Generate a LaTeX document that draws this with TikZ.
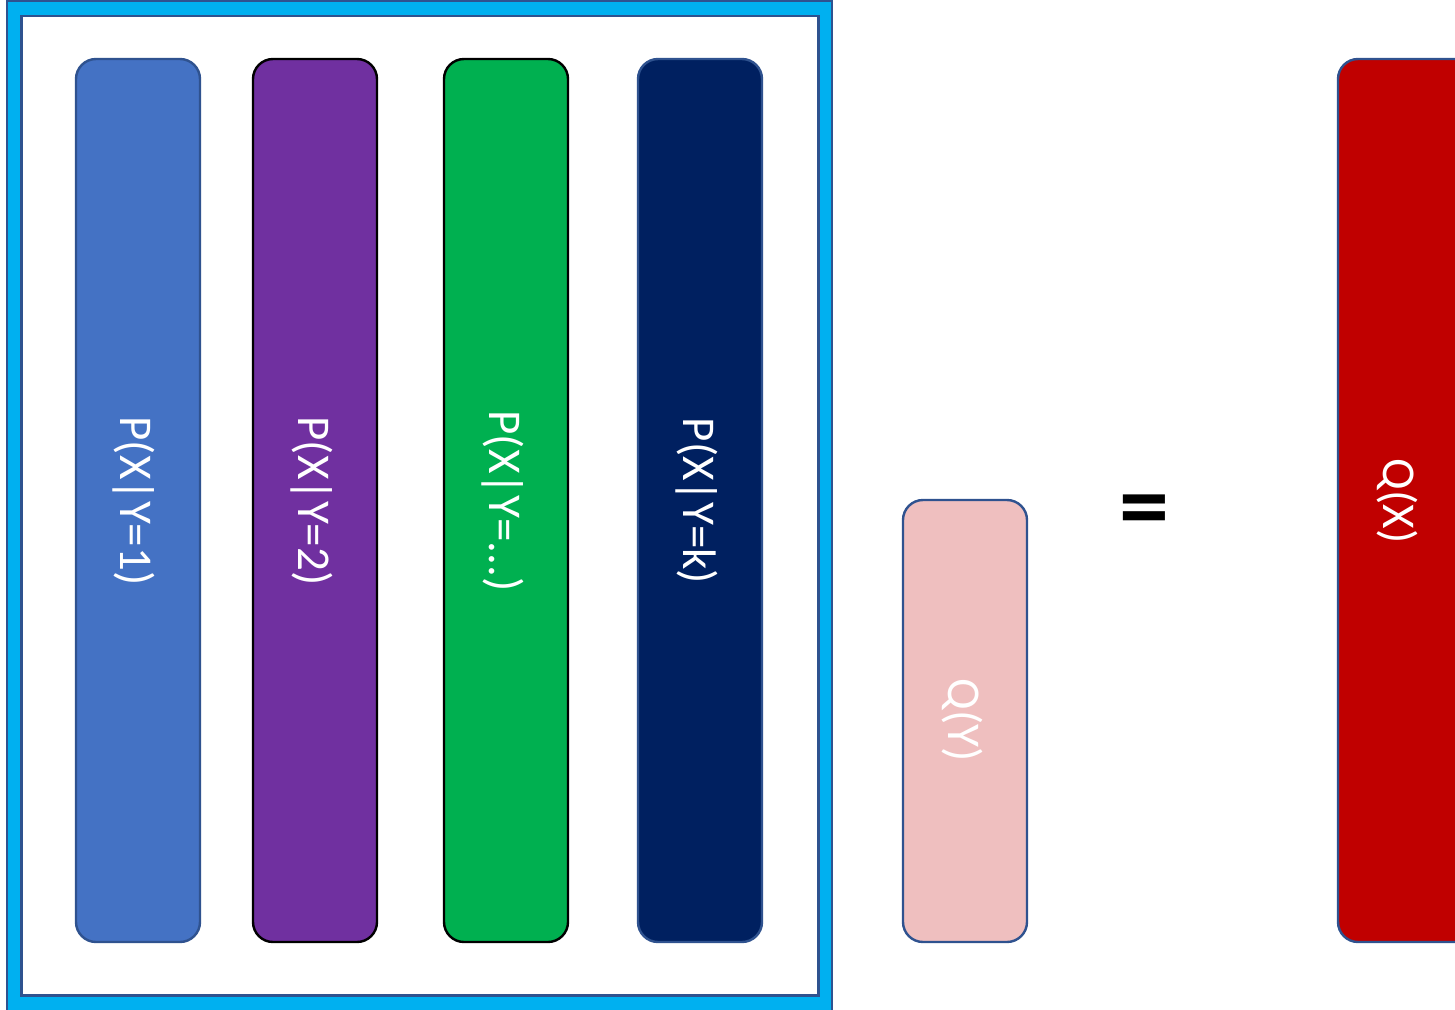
\documentclass[tikz,border=0pt]{standalone}
\usepackage{fontspec}
\setmainfont{Carlito}
\begin{document}
\begin{tikzpicture}[x=1pt,y=-1pt]
  \definecolor{framecyan}{HTML}{00B0F0}
  \definecolor{edgeblue}{HTML}{2F528F}
  \definecolor{barblue}{HTML}{4472C4}
  \definecolor{barpurple}{HTML}{7030A0}
  \definecolor{bargreen}{HTML}{00B050}
  \definecolor{barnavy}{HTML}{002060}
  \definecolor{barpink}{HTML}{EFBFBF}
  \definecolor{barred}{HTML}{C00000}
  \tikzset{
    bar/.style={rounded corners=20pt, line width=2.4pt},
    barlabel/.style={text=white, rotate=-90, inner sep=0pt,
      font=\fontsize{47}{47}\selectfont},
  }
  \useasboundingbox (0,0) rectangle (1455,1009);
  \clip (0,0) rectangle (1455,1009);

  % conditional distributions inside a framed group
  \draw[fill=framecyan, draw=edgeblue, line width=2pt] (7,1) rectangle (832,1030);
  \draw[fill=white, draw=edgeblue, line width=2.4pt] (21.5,16) rectangle (818.5,995.5);

  \draw[bar, fill=barblue, draw=edgeblue] (76,59) rectangle (200,942);
  \draw[bar, fill=barpurple, draw=black] (253,59) rectangle (377,942);
  \draw[bar, fill=bargreen, draw=black] (444,59) rectangle (568,942);
  \draw[bar, fill=barnavy, draw=edgeblue] (638,59) rectangle (762,942);

  \node[barlabel] (p1) at (134,501) {P(X|Y=1)};
  \node[barlabel] (p2) at (312,501) {P(X|Y=2)};
  \node[barlabel] (p3) at (503,501) {P(X|Y=...)};
  \node[barlabel] (pk) at (697,501) {P(X|Y=k)};

  % prior over Y
  \draw[bar, fill=barpink, draw=edgeblue] (903,500) rectangle (1027,942);
  \node[barlabel] (qy) at (962,720) {Q(Y)};

  \node[inner sep=0pt, font=\bfseries\fontsize{100}{100}\selectfont] (eq) at (1144,517) {=};

  % marginal over X
  \draw[bar, fill=barred, draw=edgeblue] (1338,59) rectangle (1520,942);
  \node[barlabel] (qx) at (1397,501) {Q(X)};
\end{tikzpicture}
\end{document}
